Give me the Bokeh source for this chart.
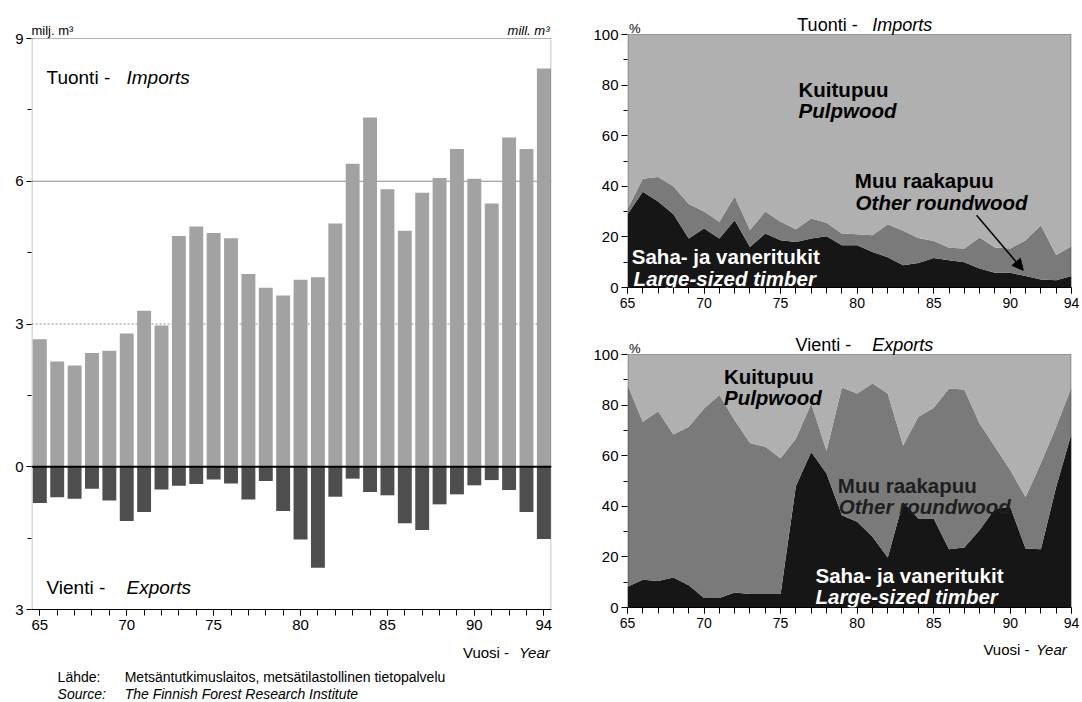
from bokeh.plotting import figure
from bokeh.models import (Range1d, FixedTicker, Label, Span, Arrow, NormalHead, ColumnDataSource,
                          BoxAnnotation)
from bokeh.layouts import row, column
from bokeh.embed import file_html
from bokeh.resources import INLINE

FONT = "Liberation Sans"

# ---------------- data ----------------
years = list(range(65, 95))
tick_years = [65, 70, 75, 80, 85, 90, 94]

# million m3, roundwood imports / exports
imports_mm3 = [2.68, 2.21, 2.13, 2.39, 2.44, 2.80, 3.28, 2.97, 4.85, 5.05,
               4.91, 4.80, 4.05, 3.76, 3.60, 3.93, 3.98, 5.11, 6.37, 7.34,
               5.83, 4.96, 5.76, 6.07, 6.68, 6.05, 5.53, 6.92, 6.68, 8.37]
exports_mm3 = [0.76, 0.64, 0.67, 0.46, 0.71, 1.14, 0.95, 0.48, 0.40, 0.36,
               0.27, 0.35, 0.69, 0.30, 0.93, 1.53, 2.12, 0.63, 0.25, 0.53,
               0.60, 1.19, 1.33, 0.79, 0.58, 0.39, 0.28, 0.49, 0.95, 1.52]
left_yticks = [-3, 0, 3, 6, 9]
left_yminor = [-1.5, 1.5, 4.5, 7.5]
left_ylabel_over = {-3: "3"}

# shares, %  (Saha- ja vaneritukit / Muu raakapuu; Kuitupuu = remainder)
imp_saha = [29.0, 37.8, 34.0, 29.0, 19.4, 23.3, 19.4, 26.6, 16.0, 21.3,
            18.7, 18.0, 19.4, 20.3, 16.7, 16.7, 14.0, 12.0, 8.8, 9.7,
            11.7, 10.8, 10.0, 7.5, 5.8, 5.8, 4.5, 3.2, 2.9, 4.5]
imp_muu = [2.0, 5.2, 9.7, 11.0, 13.6, 6.7, 6.6, 9.4, 6.7, 8.7,
           7.3, 5.0, 7.9, 5.3, 4.6, 4.3, 6.7, 13.0, 13.6, 9.9,
           6.7, 4.9, 5.4, 12.3, 10.0, 9.6, 14.2, 21.4, 9.9, 11.8]
exp_saha = [8.2, 11.0, 10.5, 11.9, 8.8, 3.8, 3.8, 5.9, 5.3, 5.3,
            5.3, 48.0, 61.5, 53.0, 36.5, 33.9, 28.0, 19.8, 41.8, 35.2,
            35.2, 23.0, 23.7, 30.6, 39.0, 39.8, 23.3, 23.0, 47.7, 68.8]
exp_muu = [79.8, 62.4, 67.1, 56.5, 62.6, 74.9, 80.2, 68.1, 59.7, 58.2,
           53.7, 18.8, 19.1, 9.0, 50.5, 50.7, 60.5, 64.8, 22.2, 40.2,
           43.8, 63.6, 62.5, 42.1, 24.5, 14.5, 20.4, 34.0, 23.7, 18.4]
pct_ticks = [0, 20, 40, 60, 80, 100]
pct_minor = [10, 30, 50, 70, 90]

C_IMP = "#a2a2a2"
C_EXP = "#4e4e4e"
C_KUITU = "#b0b0b0"
C_MUU = "#7a7a7a"
C_SAHA = "#161616"

LEFT_W = 558
RIGHT_W = 524


def base_axes(p, xlab_size):
    p.xgrid.visible = False
    p.ygrid.visible = False
    p.outline_line_color = None
    p.background_fill_color = "white"
    p.border_fill_color = "white"
    for ax in (p.xaxis[0], p.yaxis[0]):
        ax.axis_line_color = "black"
        ax.major_tick_line_color = "black"
        ax.minor_tick_line_color = "black"
        ax.major_tick_in = 0
        ax.minor_tick_in = 0
        ax.major_label_text_font = FONT
        ax.major_label_text_color = "black"
    p.yaxis.axis_line_color = None  # drawn by the plot box (frame is taller than the box)
    p.xaxis.ticker = FixedTicker(ticks=tick_years, minor_ticks=years)
    p.xaxis.major_tick_out = 6
    p.xaxis.minor_tick_out = 6
    p.xaxis.major_label_text_font_size = xlab_size
    p.xaxis.major_label_standoff = 4


def plot_box(p, x0, x1, y0, y1, half_px_x):
    p.add_layout(BoxAnnotation(left=x0 + half_px_x, right=x1 - half_px_x, bottom=y0, top=y1,
                               fill_alpha=0, line_color="black", line_width=1, level="overlay"))


def lab(p, x, y, text, size, style="normal", color="black", align="left", baseline="alphabetic"):
    p.add_layout(Label(x=x, y=y, text=text, text_font=FONT, text_font_size=size,
                       text_font_style=style, text_color=color, text_align=align,
                       text_baseline=baseline))


def text_panel(w, h):
    # plain drawing area (no axes) for the texts below the charts; y runs downwards in px
    t = figure(width=w, height=h, x_range=Range1d(0, w), y_range=Range1d(h, 0),
               output_backend="svg", toolbar_location=None, title=None, min_border=0,
               x_axis_location=None, y_axis_location=None)
    t.grid.visible = False
    t.outline_line_color = None
    t.background_fill_color = "white"
    t.border_fill_color = "white"
    return t


# ---------------- left chart ----------------
# box: x 31..551 px, y 38..609 px ; frame reaches up to the top of the page (room for the unit labels)
LX0, LX1 = 64.52, 94.44
LY_TOP = 9 + 38 * 12.0 / 571.0
p1 = figure(frame_width=520, frame_height=609, x_range=Range1d(LX0, LX1), y_range=Range1d(-3, LY_TOP),
            output_backend="svg", toolbar_location=None, title=None,
            min_border_left=31, min_border_right=LEFT_W - 551, min_border_top=0, min_border_bottom=28)
base_axes(p1, "15px")
p1.yaxis.ticker = FixedTicker(ticks=left_yticks, minor_ticks=left_yminor)
p1.yaxis.major_label_overrides = left_ylabel_over
p1.yaxis.major_label_text_font_size = "15px"
p1.yaxis.major_tick_out = 5
p1.yaxis.minor_tick_out = 4
p1.yaxis.major_label_standoff = 3

p1.add_layout(Span(location=6, dimension="width", line_color="#8a8a8a", line_width=1, level="underlay"))
p1.add_layout(Span(location=3, dimension="width", line_color="#8a8a8a", line_width=1,
                   line_dash="2 2", level="underlay"))

neg_exports = [-v for v in exports_mm3]
p1.vbar(x=years, top=imports_mm3, bottom=0, width=0.8, fill_color=C_IMP, line_color=None)
p1.vbar(x=years, top=0, bottom=neg_exports, width=0.8, fill_color=C_EXP, line_color=None)
p1.add_layout(Span(location=0, dimension="width", line_color="black", line_width=2, level="overlay"))
plot_box(p1, LX0, LX1, -3, 9, 0.5 * (LX1 - LX0) / 520.0)


def lpx(px):
    return LX0 + (px - 31) * (LX1 - LX0) / 520.0


def lpy(py):
    return 9 - (py - 38) * 12.0 / 571.0


lab(p1, lpx(31), lpy(30), "milj. m³", "13px")
lab(p1, lpx(549), lpy(30), "mill. m³", "13px", style="italic", align="right")
lab(p1, lpx(46), lpy(77), "Tuonti -", "19px")
lab(p1, lpx(126), lpy(77), "Imports", "19px", style="italic")
lab(p1, lpx(46), lpy(587), "Vienti  -", "19px")
lab(p1, lpx(126), lpy(587), "Exports", "19px", style="italic")

t2 = text_panel(LEFT_W, 65)
lab(t2, 463, 15, "Vuosi -", "15px")
lab(t2, 523, 15, "Year", "15px", style="italic")
lab(t2, 28, 39, "Lähde:", "14px")
lab(t2, 100, 39, "Metsäntutkimuslaitos, metsätilastollinen tietopalvelu", "14px")
lab(t2, 28, 56, "Source:", "14px", style="italic")
lab(t2, 100, 56, "The Finnish Forest Research Institute", "14px", style="italic")


# ---------------- right charts ----------------
def share_chart(saha, muu, frame_h):
    kuitu = [round(100 - a - b, 2) for a, b in zip(saha, muu)]
    src = ColumnDataSource(dict(year=years, saha=saha, muu=muu, kuitu=kuitu))
    # the 0..100 box is 253 px tall; the frame reaches higher to hold the title
    p = figure(frame_width=444, frame_height=frame_h, x_range=Range1d(65, 94),
               y_range=Range1d(0, frame_h * 100.0 / 253.0),
               output_backend="svg", toolbar_location=None, title=None,
               min_border_left=69, min_border_right=RIGHT_W - 69 - 444, min_border_top=0,
               min_border_bottom=30)
    base_axes(p, "14px")
    p.yaxis.ticker = FixedTicker(ticks=pct_ticks, minor_ticks=pct_minor)
    p.yaxis.major_label_text_font_size = "15px"
    p.yaxis.major_tick_out = 6
    p.yaxis.minor_tick_out = 4
    p.yaxis.major_label_standoff = 3
    p.varea_stack(stackers=["saha", "muu", "kuitu"], x="year", color=[C_SAHA, C_MUU, C_KUITU], source=src)
    plot_box(p, 65, 94, 0, 100, 0.5 * 29 / 444.0)
    return p


p2 = share_chart(imp_saha, imp_muu, 287)
lab(p2, 76.09, 103.7, "Tuonti -", "18px")
lab(p2, 80.98, 103.7, "Imports", "18px", style="italic")
lab(p2, 65.1, 102.2, "%", "13px")
lab(p2, 76.17, 78.2, "Kuitupuu", "20.5px", style="bold")
lab(p2, 76.17, 70.0, "Pulpwood", "20.5px", style="bold italic")
lab(p2, 79.85, 42.4, "Muu raakapuu", "20.5px", style="bold")
lab(p2, 79.9, 33.4, "Other roundwood", "20.5px", style="bold italic")
lab(p2, 65.28, 12.4, "Saha- ja vaneritukit", "20.5px", style="bold", color="white")
lab(p2, 65.4, 3.6, "Large-sized timber", "20.5px", style="bold italic", color="white")
p2.add_layout(Arrow(end=NormalHead(size=11, fill_color="black", line_color="black"),
                    x_start=87.8, y_start=28.6, x_end=90.85, y_end=6.8,
                    line_color="black", line_width=1.5))

p3 = share_chart(exp_saha, exp_muu, 290)
lab(p3, 75.98, 103.6, "Vienti  -", "18px")
lab(p3, 80.98, 103.6, "Exports", "18px", style="italic")
lab(p3, 65.1, 102.2, "%", "13px")
lab(p3, 71.3, 91.4, "Kuitupuu", "20.5px", style="bold")
lab(p3, 71.3, 83.0, "Pulpwood", "20.5px", style="bold italic")
lab(p3, 78.74, 48.3, "Muu raakapuu", "20.5px", style="bold", color="#1e1e1e")
lab(p3, 78.8, 39.8, "Other roundwood", "20.5px", style="bold italic", color="#1e1e1e")
lab(p3, 77.28, 12.8, "Saha- ja vaneritukit", "20.5px", style="bold", color="white")
lab(p3, 77.28, 4.2, "Large-sized timber", "20.5px", style="bold italic", color="white")

t5 = text_panel(RIGHT_W, 65)
lab(t5, 420, 12, "Vuosi -", "15px")
lab(t5, 482, 12, "Year", "15px", style="italic")

layout = row(column(p1, t2), column(p2, p3, t5))
open("out.html", "w").write(file_html(layout, INLINE))
